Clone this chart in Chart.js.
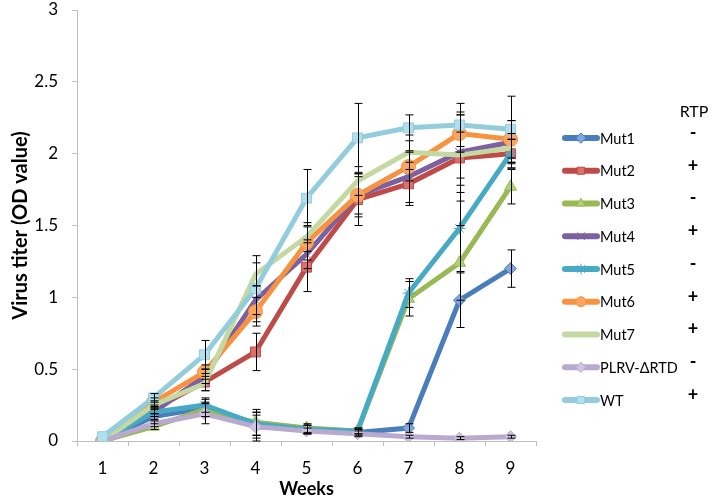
<!DOCTYPE html>
<html>
<head>
<meta charset="utf-8">
<script src="https://cdn.jsdelivr.net/npm/chart.js@4"></script>
<style>
  html, body { margin: 0; padding: 0; background: #fff; }
  #wrap { width: 714px; height: 500px; position: relative; }
</style>
</head>
<body>
<div id="wrap"><canvas id="titerChart" width="714" height="500"></canvas></div>
<script>
// Data
const weeks = ["1", "2", "3", "4", "5", "6", "7", "8", "9"];
const yTicks = [0, 0.5, 1, 1.5, 2, 2.5, 3];

const mut1 = [0, 0.17, 0.23, 0.10, 0.08, 0.06, 0.09, 0.98, 1.20];
const mut2 = [0, 0.22, 0.41, 0.62, 1.21, 1.68, 1.79, 1.97, 2.00];
const mut3 = [0, 0.10, 0.22, 0.13, 0.09, 0.07, 0.99, 1.24, 1.77];
const mut4 = [0, 0.20, 0.45, 0.98, 1.30, 1.71, 1.84, 2.01, 2.08];
const mut5 = [0, 0.20, 0.25, 0.12, 0.08, 0.07, 1.03, 1.48, 2.00];
const mut6 = [0, 0.27, 0.48, 0.90, 1.38, 1.71, 1.91, 2.14, 2.10];
const mut7 = [0, 0.25, 0.40, 1.16, 1.42, 1.81, 2.01, 1.99, 2.04];
const plrv = [0, 0.12, 0.19, 0.10, 0.07, 0.05, 0.03, 0.02, 0.03];
const wt   = [0.03, 0.30, 0.60, 1.06, 1.69, 2.11, 2.18, 2.20, 2.17];

// error bar half-heights
const mut1Err = [0, 0.02, 0.06, 0.10, 0.03, 0.02, 0.03, 0.19, 0.13];
const mut2Err = [0, 0.03, 0.06, 0.13, 0.17, 0.18, 0.15, 0.30, 0.10];
const mut3Err = [0, 0.02, 0.05, 0.09, 0.03, 0.02, 0.12, 0.26, 0.12];
const mut4Err = [0, 0.03, 0.05, 0.10, 0.10, 0.15, 0.18, 0.28, 0.15];
const mut5Err = [0, 0.03, 0.05, 0.08, 0.03, 0.02, 0.10, 0.30, 0.10];
const mut6Err = [0, 0.03, 0.05, 0.10, 0.12, 0.13, 0.10, 0.13, 0.13];
const mut7Err = [0, 0.03, 0.05, 0.08, 0.10, 0.10, 0.12, 0.16, 0.10];
const plrvErr = [0, 0.02, 0.07, 0.08, 0.02, 0.02, 0.01, 0.01, 0.01];
const wtErr   = [0, 0.03, 0.10, 0.23, 0.20, 0.24, 0.09, 0.15, 0.23];

const rtp = ["-", "+", "-", "+", "-", "+", "+", "-", "+"];

const series = [
  { label: "Mut1", data: mut1, err: mut1Err, line: "#4a7ebb", fill: "#7fa8e0", style: "rectRot", r: 6 },
  { label: "Mut2", data: mut2, err: mut2Err, line: "#be4b48", fill: "#dc706d", style: "rect", r: 7 },
  { label: "Mut3", data: mut3, err: mut3Err, line: "#98b954", fill: "#b3d174", style: "triangle", r: 7 },
  { label: "Mut4", data: mut4, err: mut4Err, line: "#7d60a0", fill: "#7d60a0", style: "crossRot", r: 6 },
  { label: "Mut5", data: mut5, err: mut5Err, line: "#46aac5", fill: "#46aac5", style: "star", r: 6 },
  { label: "Mut6", data: mut6, err: mut6Err, line: "#f69240", fill: "#f9a75e", style: "circle", r: 7 },
  { label: "Mut7", data: mut7, err: mut7Err, line: "#c4d8a1", fill: "#c4d8a1", style: false, r: 0 },
  { label: "PLRV-\u0394RTD", data: plrv, err: plrvErr, line: "#b9a9cf", fill: "#cfc3e2", style: "rectRot", r: 6 },
  { label: "WT", data: wt, err: wtErr, line: "#93cddd", fill: "#aee0f0", style: "rect", r: 7 }
];

const errorBars = {
  id: "errorBars",
  afterDatasetsDraw(chart) {
    const ctx = chart.ctx;
    const y = chart.scales.y;
    ctx.save();
    ctx.strokeStyle = "#000";
    ctx.lineWidth = 1;
    chart.data.datasets.forEach((ds, i) => {
      const meta = chart.getDatasetMeta(i);
      meta.data.forEach((pt, j) => {
        const e = ds.err[j];
        if (!e) return;
        const x = Math.round(pt.x) + 0.5;
        const top = y.getPixelForValue(ds.data[j] + e);
        const bot = y.getPixelForValue(ds.data[j] - e);
        ctx.beginPath();
        ctx.moveTo(x, top); ctx.lineTo(x, bot);
        ctx.moveTo(x - 4, top); ctx.lineTo(x + 4, top);
        ctx.moveTo(x - 4, bot); ctx.lineTo(x + 4, bot);
        ctx.stroke();
      });
    });
    ctx.restore();
  }
};

// legend with the RTP column on the right
const sideLegend = {
  id: "sideLegend",
  afterDraw(chart) {
    const ctx = chart.ctx;
    ctx.save();
    ctx.font = "16px Lato";
    ctx.fillStyle = "#000";
    ctx.textBaseline = "middle";
    ctx.textAlign = "center";
    ctx.fillText("RTP", 694, 112);
    series.forEach((s, i) => {
      const cy = 138 + i * 32.75;
      ctx.strokeStyle = s.line;
      ctx.lineWidth = 6;
      ctx.lineCap = "round";
      ctx.beginPath();
      ctx.moveTo(565, cy); ctx.lineTo(597, cy);
      ctx.stroke();
      if (s.style) {
        ctx.fillStyle = s.fill;
        ctx.strokeStyle = s.line;
        ctx.lineWidth = 1;
        Chart.helpers.drawPoint(ctx, { pointStyle: s.style, radius: 5, borderWidth: 1, rotation: 0 }, 581, cy);
      }
      ctx.fillStyle = "#000";
      ctx.textAlign = "left";
      ctx.font = "14.5px Lato";
      ctx.fillText(s.label, 600, cy + 1);
      ctx.textAlign = "center";
      ctx.font = "bold 18px Lato";
      ctx.fillText(rtp[i], 693, cy - 5);
    });
    ctx.restore();
  }
};

new Chart(document.getElementById("titerChart").getContext("2d"), {
  type: "line",
  data: {
    labels: weeks,
    datasets: series.map((s, i) => ({
      label: s.label,
      data: s.data,
      err: s.err,
      order: series.length - i,
      borderColor: s.line,
      borderWidth: 5,
      backgroundColor: s.fill,
      pointStyle: s.style,
      pointRadius: s.r,
      pointBorderColor: s.line,
      pointBackgroundColor: s.fill,
      pointBorderWidth: 1,
      tension: 0,
      fill: false
    }))
  },
  plugins: [errorBars, sideLegend],
  options: {
    responsive: false,
    animation: false,
    layout: { autoPadding: false, padding: { left: 9, top: 10, right: 178, bottom: 0 } },
    plugins: { legend: { display: false }, tooltip: { enabled: false } },
    scales: {
      x: {
        type: "category",
        offset: true,
        grid: { offset: true, drawOnChartArea: false, drawTicks: true, tickLength: 5, color: "#bfbfbf" },
        border: { color: "#bfbfbf" },
        ticks: { color: "#000", font: { family: "Lato", size: 17 }, padding: 12, maxRotation: 0 },
        title: { display: true, text: "Weeks", color: "#000", font: { family: "Lato", size: 18, weight: "bold" }, padding: { top: 0, bottom: 0 } },
        afterFit: s => { s.height = 59; }
      },
      y: {
        min: 0, max: 3,
        afterBuildTicks: s => { s.ticks = yTicks.map(v => ({ value: v })); },
        grid: { drawOnChartArea: false, drawTicks: true, tickLength: 5, color: "#bfbfbf" },
        border: { color: "#bfbfbf" },
        ticks: { color: "#000", font: { family: "Lato", size: 17 }, padding: 14, callback: v => String(v) },
        title: { display: true, text: "Virus titer (OD value)", color: "#000", font: { family: "Lato", size: 20, weight: "bold" }, padding: { top: 0, bottom: 4 } },
        afterFit: s => { s.width = 68; s.paddingTop = 0; s.paddingBottom = 0; }
      }
    }
  }
});
</script>
</body>
</html>
